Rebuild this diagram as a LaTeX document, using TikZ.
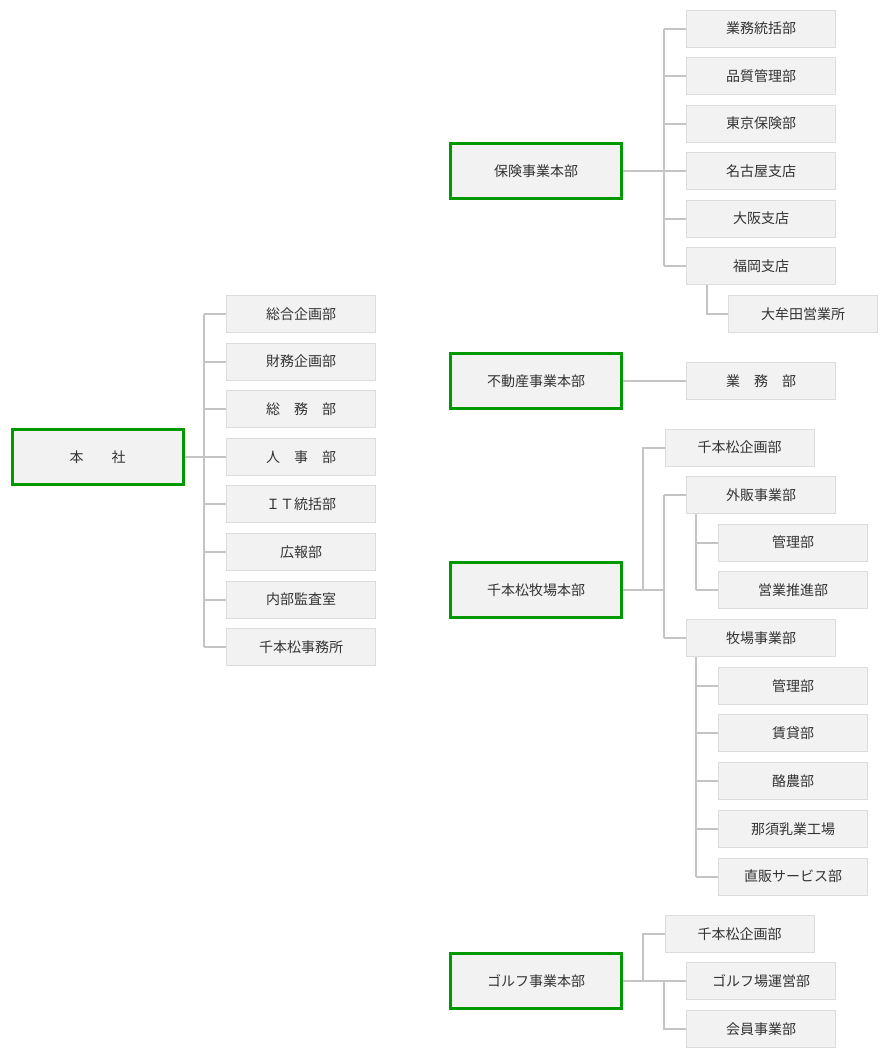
\documentclass[tikz,border=0pt]{standalone}
\usepackage{fontspec}
\setmainfont{Noto Sans CJK JP}
\definecolor{boxfill}{HTML}{F2F2F2}
\definecolor{boxline}{HTML}{DCDCDC}
\definecolor{headline}{HTML}{009900}
\definecolor{connline}{HTML}{C4C4C4}
\definecolor{txt}{HTML}{333333}
\begin{document}
\begin{tikzpicture}[x=1pt,y=-1pt,
  every node/.style={font=\fontsize{14}{16}\selectfont, text=txt, inner sep=0pt},
  unitbox/.style={draw=boxline, line width=1pt, fill=boxfill, minimum width=149pt, minimum height=37pt},
  headbox/.style={draw=headline, line width=3pt, fill=boxfill, minimum width=171pt, minimum height=55pt},
  conn/.style={draw=connline, line width=2pt}]
\useasboundingbox (0,0) rectangle (892,1053);

% ---- 本社 ----
\node[headbox] (honsha) at (97.5,457) {本　　社};
\foreach \t [count=\i] in {総合企画部,財務企画部,総　務　部,人　事　部,ＩＴ統括部,広報部,内部監査室,千本松事務所}{
  \node[unitbox] (h\i) at (301,{314+47.6*(\i-1)}) {\t};
}
\coordinate (hb) at (204,457);
\draw[conn] (honsha.east) -- (hb);
\draw[conn] (hb |- h1) -- (hb |- h8);
\foreach \i in {1,...,8}{ \draw[conn] (hb |- h\i) -- (h\i.west); }

% ---- 保険事業本部 ----
\node[headbox] (hoken) at (536,171) {保険事業本部};
\foreach \t [count=\i] in {業務統括部,品質管理部,東京保険部,名古屋支店,大阪支店,福岡支店}{
  \node[unitbox] (k\i) at (761,{28.5+47.5*(\i-1)}) {\t};
}
\node[unitbox] (omuta) at (803,314) {大牟田営業所};
\coordinate (kb) at (664,171);
\draw[conn] (hoken.east) -- (kb);
\draw[conn] (kb |- k1) -- (kb |- k6);
\foreach \i in {1,...,6}{ \draw[conn] (kb |- k\i) -- (k\i.west); }
\coordinate (kf) at ([xshift=21pt]k6.south west);
\draw[conn] (kf) |- (omuta.west);

% ---- 不動産事業本部 ----
\node[headbox] (fudosan) at (536,381) {不動産事業本部};
\node[unitbox] (f1) at (761,381) {業　務　部};
\draw[conn] (fudosan.east) -- (f1.west);

% ---- 千本松牧場本部 ----
\node[headbox] (bokujo) at (536,590) {千本松牧場本部};
\node[unitbox] (b1) at (739.5,447.5) {千本松企画部};
\node[unitbox] (b2) at (761,495) {外販事業部};
\node[unitbox] (b21) at (793,542.5) {管理部};
\node[unitbox] (b22) at (793,590) {営業推進部};
\node[unitbox] (b3) at (761,638) {牧場事業部};
\foreach \t [count=\i] in {管理部,賃貸部,酪農部,那須乳業工場,直販サービス部}{
  \node[unitbox] (b3\i) at (793,{685.7+47.7*(\i-1)}) {\t};
}
\coordinate (bb1) at (643,590);
\coordinate (bb2) at (664,590);
\draw[conn] (bokujo.east) -- (bb2);
\draw[conn] (bb1) |- (b1.west);
\draw[conn] (bb2 |- b2) -- (bb2 |- b3);
\draw[conn] (bb2 |- b2) -- (b2.west);
\draw[conn] (bb2 |- b3) -- (b3.west);
\coordinate (bs2) at ([xshift=10pt]b2.south west);
\draw[conn] (bs2) -- (bs2 |- b22);
\draw[conn] (bs2 |- b21) -- (b21.west);
\draw[conn] (bs2 |- b22) -- (b22.west);
\coordinate (bs3) at ([xshift=10pt]b3.south west);
\draw[conn] (bs3) -- (bs3 |- b35);
\foreach \i in {1,...,5}{ \draw[conn] (bs3 |- b3\i) -- (b3\i.west); }

% ---- ゴルフ事業本部 ----
\node[headbox] (golf) at (536,981) {ゴルフ事業本部};
\node[unitbox] (g1) at (739.5,933.7) {千本松企画部};
\node[unitbox] (g2) at (761,981) {ゴルフ場運営部};
\node[unitbox] (g3) at (761,1029) {会員事業部};
\coordinate (gb1) at (643,981);
\draw[conn] (golf.east) -- (g2.west);
\draw[conn] (gb1) |- (g1.west);
\coordinate (gb2) at (664,981);
\draw[conn] (gb2) |- (g3.west);
\end{tikzpicture}
\end{document}
